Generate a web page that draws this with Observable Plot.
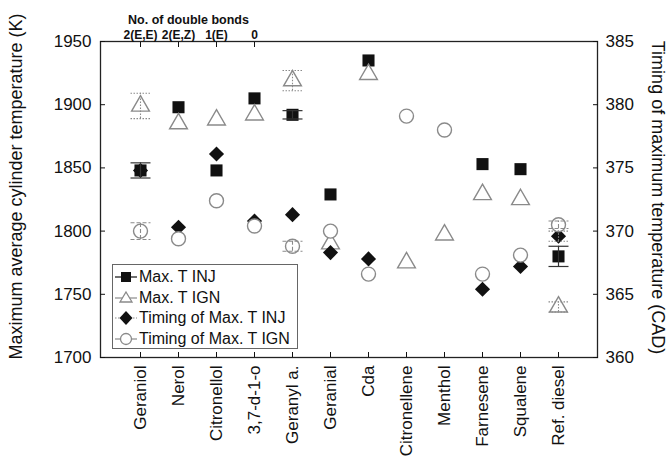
<!DOCTYPE html>
<html><head><meta charset="utf-8">
<script src="https://cdn.jsdelivr.net/npm/d3@7"></script>
<script src="https://cdn.jsdelivr.net/npm/@observablehq/plot@0.6"></script>
<style>
body{margin:0;background:#fff;}
#wrap{position:relative;width:667px;height:468px;font-family:"Liberation Sans",Arial,sans-serif;}
#legend{position:absolute;left:112px;top:264px;width:186px;height:85px;border:1px solid #666;background:#fff;box-sizing:border-box;font-size:16px;color:#111;padding-top:2px;}
#legend .row{display:flex;align-items:center;height:20.5px;white-space:nowrap;}
#legend svg{flex:none;margin-left:0px;margin-right:0px;}
</style></head><body><div id="wrap"></div>
<script>
// ---- data ----
const categories = ["Geraniol","Nerol","Citronellol","3,7-d-1-o","Geranyl a.","Geranial","Cda","Citronellene","Menthol","Farnesene","Squalene","Ref. diesel"];
const maxTInj      = [1848, 1898, 1848, 1905, 1892, 1829, 1935, null, null, 1853, 1849, 1780];
const maxTInjErr   = [6, null, null, null, 3.3, null, null, null, null, null, null, 8];
const maxTIgn      = [1899, 1885, 1888, 1892, 1919, 1790, 1924, 1775, 1797, 1829, 1825, 1740];
const maxTIgnErr   = [10, null, null, null, 8, null, null, null, null, null, null, 4];
const timingInj    = [374.8, 370.3, 376.1, 370.8, 371.3, 368.3, 367.8, null, null, 365.4, 367.2, 369.6];
const timingInjErr = [null, null, null, null, null, null, null, null, null, null, null, 0.4];
const timingIgn    = [370.0, 369.4, 372.4, 370.4, 368.8, 370.0, 366.6, 379.1, 378.0, 366.6, 368.1, 370.5];
const timingIgnErr = [0.66, null, null, null, 0.4, null, null, null, null, null, null, 0.3];
const leftTicks  = [1700, 1750, 1800, 1850, 1900, 1950];
const rightTicks = [360, 365, 370, 375, 380, 385];
const bondCats   = ["Geraniol","Nerol","Citronellol","3,7-d-1-o"];
const bondLabels = ["2(E,E)","2(E,Z)","1(E)","0"];
const legendItems = ["Max. T INJ","Max. T IGN","Timing of Max. T INJ","Timing of Max. T IGN"];
const leftTitle  = "Maximum average cylinder temperature (K)";
const rightTitle = "Timing of maximum temperature (CAD)";
const topTitle   = "No. of double bonds";

// map right axis (CAD) onto the left scale (K)
const toK = t => 1700 + (t - 360) * 10;
const fromK = k => Math.round((k - 1700) / 10 + 360);

const rows = categories.map((c, i) => ({
  c,
  inj: maxTInj[i], injE: maxTInjErr[i],
  ign: maxTIgn[i], ignE: maxTIgnErr[i],
  tInj: timingInj[i] == null ? null : toK(timingInj[i]),
  tInjE: timingInjErr[i] == null ? null : timingInjErr[i] * 10,
  tIgn: timingIgn[i] == null ? null : toK(timingIgn[i]),
  tIgnE: timingIgnErr[i] == null ? null : timingIgnErr[i] * 10
}));

const GRAY = "#8a8a8a";
const cap = {draw(ctx) { ctx.moveTo(-10, 0); ctx.lineTo(10, 0); }};

function errMarks(key, ekey, stroke, dash, w) {
  const d = rows.filter(r => r[ekey] != null && r[key] != null);
  const o = {x: "c", stroke, strokeWidth: w, strokeDasharray: dash};
  return [
    Plot.ruleX(d, {...o, y1: r => r[key] - r[ekey], y2: r => r[key] + r[ekey]}),
    Plot.dot(d, {...o, y: r => r[key] - r[ekey], symbol: cap, r: 3}),
    Plot.dot(d, {...o, y: r => r[key] + r[ekey], symbol: cap, r: 3})
  ];
}

const chart = Plot.plot({
  width: 667, height: 468,
  marginLeft: 100, marginRight: 70, marginTop: 41, marginBottom: 111,
  style: {fontFamily: '"Liberation Sans", Arial, sans-serif', fontSize: "17px", color: "#111", background: "#fff"},
  x: {type: "point", domain: categories, padding: 0.95},
  y: {domain: [1700, 1950]},
  marks: [
    Plot.frame({stroke: "#222", strokeWidth: 1.3}),
    Plot.axisY(leftTicks, {anchor: "left", tickSize: -5, tickPadding: 14, tickFormat: d => String(d), label: null, fontSize: 17}),
    Plot.axisY(rightTicks.map(toK), {anchor: "right", tickSize: -5, tickPadding: 13, tickFormat: d => String(fromK(d)), label: null, fontSize: 17}),
    Plot.axisX(categories, {anchor: "bottom", tickSize: -5, tickPadding: 13, tickRotate: -90, label: null, fontSize: 17}),
    Plot.axisX(bondCats, {anchor: "top", tickSize: -5, tickPadding: 8, tickFormat: d => bondLabels[bondCats.indexOf(d)], label: null, fontSize: 12, fontWeight: "bold"}),
    Plot.text([topTitle], {frameAnchor: "top", x: () => categories[1], dx: 10, dy: -22, lineAnchor: "middle", text: d => d, fontSize: 12.5, fontWeight: "bold", textAnchor: "middle"}),
    Plot.text([leftTitle], {frameAnchor: "left", text: d => d, rotate: -90, dx: -84, dy: -13, fontSize: 18, textAnchor: "middle"}),
    Plot.text([rightTitle], {frameAnchor: "right", text: d => d, rotate: 90, dx: 60, dy: -2, fontSize: 18, textAnchor: "middle"}),
    Plot.dot(rows, {x: "c", y: "inj", symbol: "square", fill: "#111", r: 6.8}),
    Plot.dot(rows, {x: "c", y: "ign", symbol: "triangle", stroke: GRAY, fill: "white", strokeWidth: 1.4, r: 6.6}),
    Plot.dot(rows, {x: "c", y: "tInj", symbol: "diamond2", fill: "#111", r: 6.8}),
    Plot.dot(rows, {x: "c", y: "tIgn", symbol: "circle", stroke: GRAY, fill: "white", strokeWidth: 1.4, r: 7}),
    ...errMarks("inj", "injE", "#333", null, 1.2),
    ...errMarks("ign", "ignE", GRAY, "1.5,1.5", 1.1),
    ...errMarks("tInj", "tInjE", GRAY, "1.5,1.5", 1.1),
    ...errMarks("tIgn", "tIgnE", GRAY, "4,2", 1.1)
  ]
});

const wrap = document.getElementById("wrap");
wrap.appendChild(chart);

// legend overlay
const sw = [
  `<line x1="2" y1="10" x2="24" y2="10" stroke="#111" stroke-width="1.2"/><rect x="8" y="5" width="10" height="10" fill="#111"/>`,
  `<line x1="2" y1="10" x2="24" y2="10" stroke="${GRAY}" stroke-width="1.2"/><path d="M13,4L19,14L7,14Z" fill="white" stroke="${GRAY}" stroke-width="1.3"/>`,
  `<line x1="2" y1="10" x2="24" y2="10" stroke="${GRAY}" stroke-width="1.2" stroke-dasharray="1.5,1.5"/><path d="M13,3L19.5,10L13,17L6.5,10Z" fill="#111"/>`,
  `<line x1="2" y1="10" x2="24" y2="10" stroke="${GRAY}" stroke-width="1.2"/><circle cx="13" cy="10" r="5.5" fill="white" stroke="${GRAY}" stroke-width="1.3"/>`
];
const lg = document.createElement("div");
lg.id = "legend";
lg.innerHTML = legendItems.map((t, i) => `<div class="row"><svg width="26" height="20">${sw[i]}</svg><span>${t}</span></div>`).join("");
wrap.appendChild(lg);
</script></body></html>
